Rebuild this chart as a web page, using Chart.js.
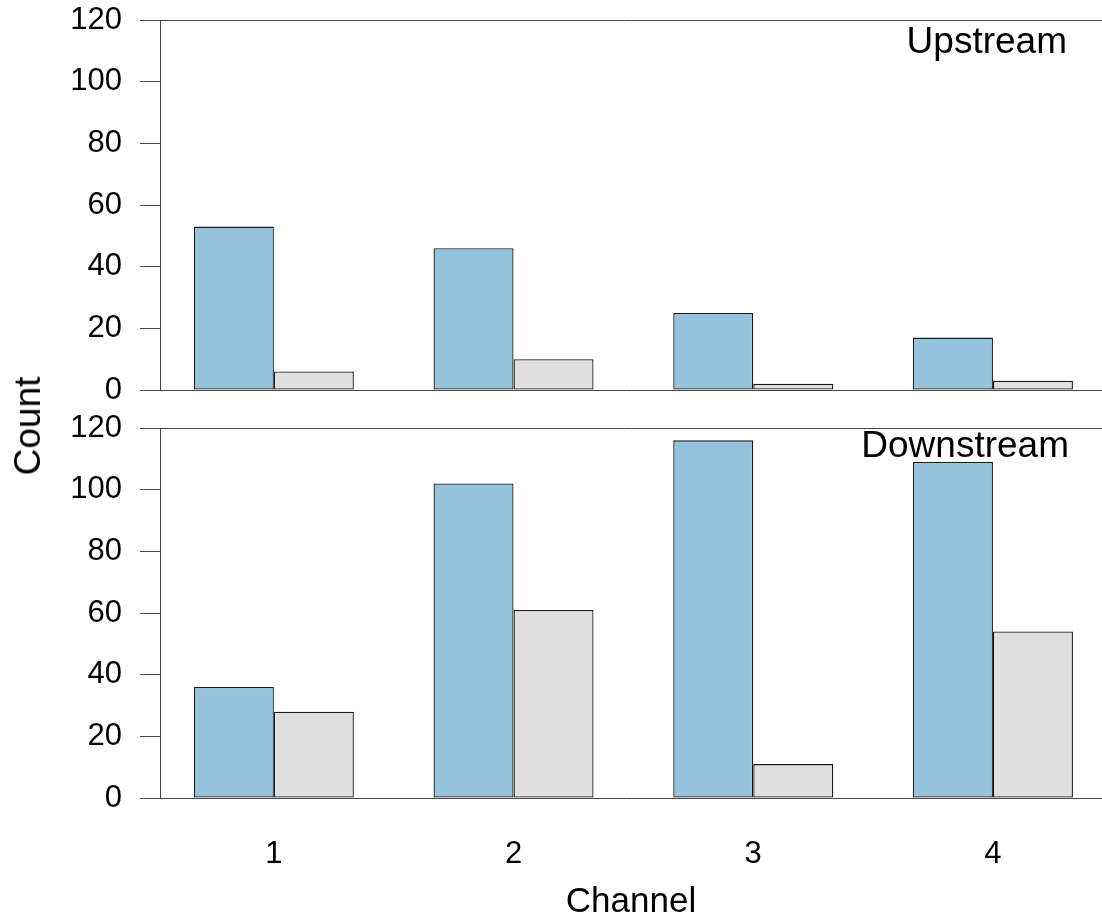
<!DOCTYPE html>
<html>
<head>
<meta charset="utf-8">
<script src="https://cdn.jsdelivr.net/npm/chart.js@4.4.1/dist/chart.umd.min.js"></script>
<style>
body { margin: 0; background: #fff; }
#wrap { position: relative; width: 1102px; height: 920px; background: #fff; overflow: hidden; }
#wrap canvas { position: absolute; left: 0; }
#count_label {
    position: absolute; left: 28px; top: 426px;
    transform: translate(-50%, -50%) rotate(-90deg);
    font: 37px "Liberation Sans", Arial, sans-serif; color: #000; white-space: nowrap;
}
</style>
</head>
<body>
<div id="wrap">
    <canvas id="upChart" width="1102" height="410" style="top:0px"></canvas>
    <canvas id="downChart" width="1102" height="520" style="top:400px"></canvas>
    <div id="count_label">Count</div>
</div>
<script>
const channels = [1, 2, 3, 4];
const upstream_blue = [53, 46, 25, 17];
const upstream_grey = [6, 10, 2, 3];
const downstream_blue = [36, 102, 116, 109];
const downstream_grey = [28, 61, 11, 54];
const y_max = 120;
const y_step = 20;

const FONT = '"Liberation Sans", Arial, sans-serif';
const AXIS_COLOR = '#444';
const BLUE = '#95C3DD';
const GREY = '#DFDFDF';

function to_points(values) {
    return channels.map((c, i) => ({x: c, y: values[i]}));
}

function make_dataset(values, color) {
    return {
        data: to_points(values),
        backgroundColor: color,
        borderColor: '#1a1a1a',
        borderWidth: 1.3,
        borderSkipped: false,
        barPercentage: 1.0,
        categoryPercentage: 0.6675
    };
}

// draws the panel name in the upper right corner
const panel_label = {
    id: 'panel_label',
    afterDraw(chart, args, opts) {
        const ctx = chart.ctx;
        ctx.save();
        ctx.font = '37px ' + FONT;
        ctx.fillStyle = '#000';
        ctx.textAlign = 'right';
        ctx.textBaseline = 'alphabetic';
        ctx.fillText(opts.text, opts.x, opts.y);
        ctx.restore();
    }
};

function y_scale() {
    return {
        min: 0,
        max: y_max,
        ticks: {
            stepSize: y_step,
            padding: 18,
            color: '#000',
            font: {family: FONT, size: 31}
        },
        grid: {
            drawOnChartArea: true,
            drawTicks: true,
            tickLength: 20,
            tickColor: AXIS_COLOR,
            lineWidth: 1,
            color: (ctx) => (ctx.tick && (ctx.tick.value === 0 || ctx.tick.value === y_max)) ? AXIS_COLOR : 'rgba(0,0,0,0)'
        },
        border: {display: true, color: AXIS_COLOR, width: 1},
        afterFit: (scale) => {
            scale.width = 160;
            scale.paddingTop = 0;
            scale.paddingBottom = 0;
        }
    };
}

function x_scale(show) {
    return {
        type: 'linear',
        display: show,
        min: 0.525,
        max: 4.455,
        offset: false,
        afterBuildTicks: (scale) => {
            scale.ticks = channels.map(v => ({value: v}));
        },
        ticks: {
            padding: 38,
            color: '#000',
            font: {family: FONT, size: 31}
        },
        grid: {display: false, drawTicks: false, offset: false},
        border: {display: false},
        title: {
            display: show,
            text: 'Channel',
            color: '#000',
            font: {family: FONT, size: 35, lineHeight: 1},
            padding: {top: 0, bottom: 0}
        },
        afterFit: (scale) => {
            if (!show) return;
            scale.height = 122;
            scale.paddingLeft = 0;
            scale.paddingRight = 0;
        }
    };
}

function make_panel(canvas_id, blue, grey, label, label_x, label_y, pad_top, pad_bottom, show_x) {
    const ctx = document.getElementById(canvas_id).getContext('2d');
    return new Chart(ctx, {
        type: 'bar',
        data: {
            datasets: [make_dataset(blue, BLUE), make_dataset(grey, GREY)]
        },
        options: {
            responsive: false,
            animation: false,
            layout: {padding: {top: pad_top, bottom: pad_bottom, left: 0, right: 0}},
            plugins: {
                legend: {display: false},
                tooltip: {enabled: false},
                panel_label: {text: label, x: label_x, y: label_y}
            },
            scales: {
                x: x_scale(show_x),
                y: y_scale()
            }
        },
        plugins: [panel_label]
    });
}

make_panel('upChart', upstream_blue, upstream_grey, 'Upstream', 1067, 53, 20, 20, false);
make_panel('downChart', downstream_blue, downstream_grey, 'Downstream', 1069, 57, 28, 0, true);
</script>
</body>
</html>
